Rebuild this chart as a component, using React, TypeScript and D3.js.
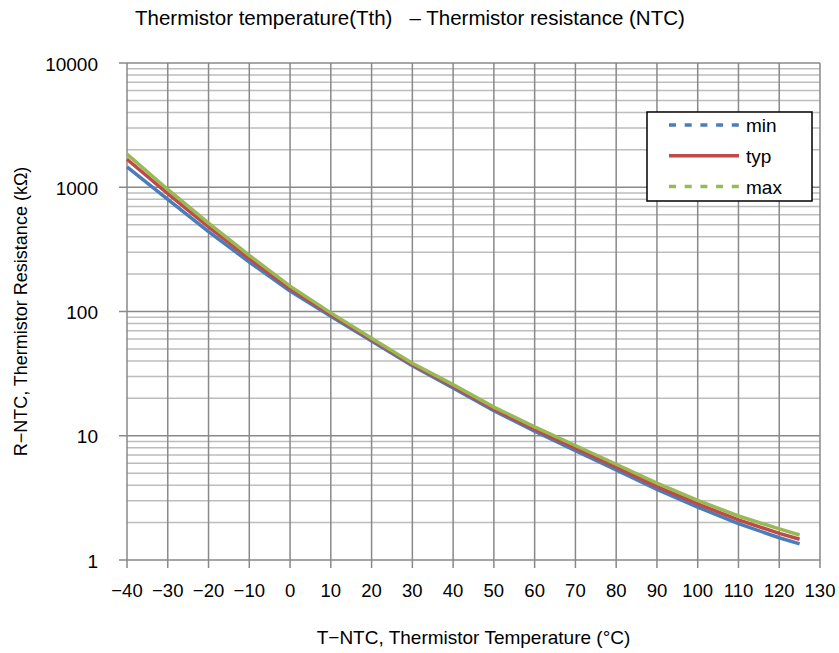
import * as d3 from 'd3';
import { useEffect, useRef } from 'react';

const temps = [-40, -30, -20, -10, 0, 10, 20, 30, 40, 50, 60, 70, 80, 90, 100, 110, 120, 125];
const rMin = [1460, 800, 440, 250, 146, 91.5, 58.0, 36.6, 24.3, 15.9, 10.9, 7.6, 5.3, 3.7, 2.66, 1.96, 1.51, 1.35];
const rTyp = [1680, 890, 480, 267, 153, 94.6, 59.4, 37.4, 25.0, 16.4, 11.3, 7.96, 5.59, 3.9, 2.83, 2.1, 1.64, 1.47];
const rMax = [1850, 960, 515, 283, 160, 97.5, 60.8, 38.3, 25.8, 17.0, 11.8, 8.35, 5.9, 4.15, 3.02, 2.26, 1.78, 1.59];
const xTicks = d3.range(-40, 131, 10);
const yTicks = [1, 10, 100, 1000, 10000];

const series = [
  { name: 'min', values: rMin, color: '#4a7ebb', dash: '7,8.7' },
  { name: 'typ', values: rTyp, color: '#be4b48', dash: '' },
  { name: 'max', values: rMax, color: '#98b954', dash: '7,8.7' },
];

const W = 839;
const H = 653;
const FONT = '"Liberation Sans", Arial, sans-serif';

export default function App() {
  const ref = useRef<SVGSVGElement>(null);

  useEffect(() => {
    const svg = d3.select(ref.current);
    svg.selectAll('*').remove();

    const left = 127, right = 820, top = 63, bottom = 560;
    const x = d3.scaleLinear().domain([-40, 130]).range([left, right]);
    const y = d3.scaleLog().domain([1, 10000]).range([bottom, top]);

    // minor horizontal grid
    const minors: number[] = [];
    for (let d = 1; d < 10000; d *= 10) for (let k = 2; k <= 9; k++) minors.push(d * k);
    svg.append('g').selectAll('line').data(minors).enter().append('line')
      .attr('x1', left).attr('x2', right)
      .attr('y1', (d) => y(d)).attr('y2', (d) => y(d))
      .attr('stroke', '#bdbdbd').attr('stroke-width', 1.5);

    // major horizontal grid
    svg.append('g').selectAll('line').data(yTicks).enter().append('line')
      .attr('x1', left - 8).attr('x2', right)
      .attr('y1', (d) => y(d)).attr('y2', (d) => y(d))
      .attr('stroke', '#898989').attr('stroke-width', 1.5);

    // vertical grid
    svg.append('g').selectAll('line').data(xTicks).enter().append('line')
      .attr('x1', (d) => x(d)).attr('x2', (d) => x(d))
      .attr('y1', top).attr('y2', bottom + 8)
      .attr('stroke', '#898989').attr('stroke-width', 1.5);

    // y tick labels
    svg.append('g').selectAll('text').data(yTicks).enter().append('text')
      .attr('x', left - 29).attr('y', (d) => y(d) + 7.5)
      .attr('text-anchor', 'end').attr('font-family', FONT).attr('font-size', 19)
      .text((d) => String(d));

    // x tick labels
    svg.append('g').selectAll('text').data(xTicks).enter().append('text')
      .attr('x', (d) => x(d)).attr('y', bottom + 37)
      .attr('text-anchor', 'middle').attr('font-family', FONT).attr('font-size', 18.5)
      .text((d) => (d < 0 ? '\u2212' + Math.abs(d) : String(d)));

    // curves
    const line = d3.line<number>()
      .x((_, i) => x(temps[i]))
      .y((d) => y(d));
    series.forEach((s) => {
      svg.append('path').datum(s.values)
        .attr('d', line)
        .attr('fill', 'none')
        .attr('stroke', s.color)
        .attr('stroke-width', 3.5);
    });

    // legend
    const lg = svg.append('g');
    lg.append('rect').attr('x', 647).attr('y', 112).attr('width', 165).attr('height', 89)
      .attr('fill', '#fff').attr('stroke', '#000').attr('stroke-width', 1.5);
    series.forEach((s, i) => {
      const ly = 125 + i * 30.8;
      lg.append('line').attr('x1', 669).attr('x2', 739).attr('y1', ly).attr('y2', ly)
        .attr('stroke', s.color).attr('stroke-width', 3.5)
        .attr('stroke-dasharray', s.dash);
      lg.append('text').attr('x', 746).attr('y', ly + 7)
        .attr('font-family', FONT).attr('font-size', 19).text(s.name);
    });

    // titles
    svg.append('text').attr('x', 135).attr('y', 25)
      .attr('font-family', FONT).attr('font-size', 20.5)
      .style('white-space', 'pre')
      .text('Thermistor temperature(Tth)   \u2013 Thermistor resistance (NTC)');
    svg.append('text').attr('x', (left + right) / 2).attr('y', 644).attr('text-anchor', 'middle')
      .attr('font-family', FONT).attr('font-size', 19)
      .text('T\u2212NTC, Thermistor Temperature (\u00B0C)');
    svg.append('text')
      .attr('transform', `translate(27, ${(top + bottom) / 2}) rotate(-90)`)
      .attr('text-anchor', 'middle')
      .attr('font-family', FONT).attr('font-size', 18)
      .text('R\u2212NTC, Thermistor Resistance (k\u03A9)');
  }, []);

  return (
    <svg ref={ref} width={W} height={H}
      style={{ position: 'absolute', left: 0, top: 0, background: '#fff' }} />
  );
}
